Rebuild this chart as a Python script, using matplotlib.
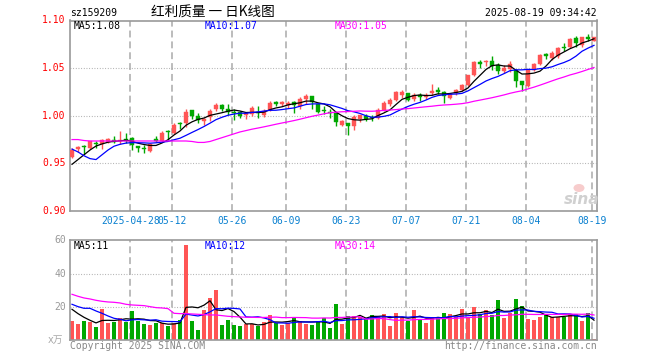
import matplotlib
matplotlib.use("Agg")
import matplotlib.pyplot as plt
import numpy as np
import pandas as pd
from matplotlib.patches import Rectangle, Ellipse

# ---------------- data ----------------
dates = (["2025-04-%02d" % d for d in [14, 15, 16, 17, 18, 21, 22, 23, 24, 25, 28, 29, 30]]
         + ["2025-05-%02d" % d for d in [6, 7, 8, 9, 12, 13, 14, 15, 16, 19, 20, 21, 22, 23, 26, 27, 28, 29, 30]]
         + ["2025-06-%02d" % d for d in [3, 4, 5, 6, 9, 10, 11, 12, 13, 16, 17, 18, 19, 20, 23, 24, 25, 26, 27, 30]]
         + ["2025-07-%02d" % d for d in [1, 2, 3, 4, 7, 8, 9, 10, 11, 14, 15, 16, 17, 18, 21, 22, 23, 24, 25, 28, 29, 30, 31]]
         + ["2025-08-%02d" % d for d in [1, 4, 5, 6, 7, 8, 11, 12, 13, 14, 15, 18, 19]])

opens = [0.957, 0.965, 0.968, 0.966, 0.971, 0.970, 0.972, 0.975, 0.973, 0.975,
         0.977, 0.968, 0.966, 0.963, 0.975, 0.974, 0.984, 0.982, 0.992, 0.992,
         1.006, 1.000, 0.995, 0.999, 1.007, 1.011, 1.007, 1.004, 1.004, 1.001,
         1.002, 1.004, 1.001, 1.006, 1.014, 1.012, 1.011, 1.014, 1.010, 1.018,
         1.021, 1.012, 1.006, 1.004, 1.003, 0.990, 0.992, 0.989, 0.997, 1.000,
         0.999, 0.998, 1.006, 1.012, 1.017, 1.022, 1.024, 1.018, 1.022, 1.020,
         1.024, 1.027, 1.025, 1.019, 1.024, 1.027, 1.032, 1.043, 1.056, 1.056,
         1.057, 1.053, 1.047, 1.049, 1.048, 1.036, 1.031, 1.048, 1.054, 1.065,
         1.061, 1.063, 1.072, 1.072, 1.082, 1.074, 1.083, 1.079]
highs = [0.966, 0.968, 0.969, 0.974, 0.973, 0.976, 0.977, 0.979, 0.984, 0.982,
         0.978, 0.968, 0.969, 0.971, 0.979, 0.984, 0.985, 0.992, 0.993, 1.007,
         1.006, 1.003, 0.998, 1.007, 1.013, 1.012, 1.012, 1.007, 1.005, 1.004,
         1.010, 1.010, 1.007, 1.015, 1.016, 1.016, 1.016, 1.016, 1.020, 1.023,
         1.021, 1.013, 1.010, 1.007, 1.004, 0.996, 0.992, 1.001, 1.001, 1.002,
         1.001, 1.008, 1.016, 1.019, 1.026, 1.027, 1.024, 1.024, 1.024, 1.024,
         1.033, 1.030, 1.026, 1.024, 1.028, 1.033, 1.043, 1.057, 1.059, 1.059,
         1.063, 1.055, 1.053, 1.057, 1.049, 1.037, 1.049, 1.055, 1.065, 1.066,
         1.068, 1.072, 1.076, 1.082, 1.084, 1.083, 1.086, 1.083]
lows = [0.956, 0.962, 0.960, 0.965, 0.966, 0.965, 0.971, 0.971, 0.970, 0.971,
        0.964, 0.962, 0.961, 0.962, 0.972, 0.972, 0.975, 0.981, 0.986, 0.988,
        0.997, 0.992, 0.990, 0.995, 1.005, 1.005, 1.001, 0.996, 0.998, 0.997,
        1.000, 0.998, 0.999, 1.005, 1.010, 1.010, 1.008, 1.003, 1.007, 1.012,
        1.007, 1.003, 1.002, 0.998, 0.989, 0.989, 0.980, 0.985, 0.993, 0.994,
        0.995, 0.997, 1.005, 1.010, 1.016, 1.019, 1.016, 1.016, 1.016, 1.018,
        1.022, 1.023, 1.013, 1.018, 1.022, 1.026, 1.031, 1.042, 1.050, 1.052,
        1.048, 1.044, 1.045, 1.046, 1.030, 1.026, 1.030, 1.047, 1.053, 1.060,
        1.059, 1.061, 1.068, 1.071, 1.072, 1.072, 1.078, 1.078]
closes = [0.964, 0.967, 0.967, 0.973, 0.970, 0.975, 0.976, 0.972, 0.975, 0.974,
          0.969, 0.966, 0.965, 0.970, 0.974, 0.982, 0.983, 0.990, 0.991, 1.004,
          1.000, 0.996, 0.997, 1.005, 1.011, 1.007, 1.004, 1.003, 1.000, 1.003,
          1.008, 1.003, 1.005, 1.013, 1.012, 1.014, 1.013, 1.011, 1.018, 1.021,
          1.014, 1.004, 1.005, 1.003, 0.993, 0.995, 0.989, 0.999, 1.001, 0.997,
          0.998, 1.006, 1.013, 1.017, 1.025, 1.025, 1.017, 1.022, 1.020, 1.022,
          1.026, 1.025, 1.021, 1.023, 1.027, 1.032, 1.043, 1.056, 1.054, 1.058,
          1.052, 1.047, 1.050, 1.054, 1.036, 1.032, 1.048, 1.054, 1.064, 1.063,
          1.066, 1.071, 1.071, 1.081, 1.076, 1.083, 1.081, 1.083]
volumes = [11.6, 9.8, 11.6, 11.2, 8.0, 18.8, 10.4, 11.0, 13.4, 11.0,
           17.6, 11.6, 9.8, 9.2, 10.4, 10.4, 8.6, 10.4, 12.2, 57.2,
           11.6, 6.2, 18.2, 25.4, 30.2, 9.2, 12.2, 9.2, 8.6, 9.8,
           9.8, 8.6, 11.0, 15.2, 10.4, 9.2, 10.4, 14.0, 11.6, 9.8,
           9.2, 11.0, 13.4, 7.4, 21.8, 9.8, 14.6, 14.6, 14.0, 13.4,
           15.2, 14.6, 15.8, 8.6, 16.4, 14.0, 11.6, 18.2, 12.2, 10.4,
           14.0, 14.0, 16.4, 15.8, 14.0, 18.8, 14.0, 20.0, 15.8, 18.2,
           15.2, 24.2, 13.4, 16.4, 24.8, 20.6, 12.8, 12.2, 14.0, 15.8,
           14.0, 14.0, 14.0, 15.8, 15.8, 11.6, 16.4, 0.8]

price_ma5_head = [0.949, 0.954, 0.959, 0.964]
price_ma10_head = [0.965, 0.962, 0.958, 0.955, 0.954, 0.959, 0.964, 0.968, 0.970]
price_ma30_head = [0.975, 0.975, 0.974, 0.9735, 0.9735, 0.9735, 0.9735, 0.9735, 0.9735, 0.9735,
                   0.9735, 0.9735, 0.9735, 0.9735, 0.9735, 0.9735, 0.9735, 0.9735, 0.9735, 0.9735,
                   0.9730, 0.972, 0.972, 0.973, 0.975, 0.977, 0.979, 0.981, 0.983]
vol_ma5_head = [18.6, 16.0, 13.8, 12.0]
vol_ma10_head = [21.6, 20.2, 19.2, 19.2, 17.6, 16.2, 14.6, 13.2, 12.6]
vol_ma30_head = [27.6, 26.4, 25.4, 24.8, 24.0, 23.4, 23.0, 22.8, 22.4, 21.6,
                 21.2, 21.0, 20.8, 20.2, 19.6, 19.4, 19.0, 16.2, 16.0, 16.0,
                 15.8, 15.6, 15.4, 15.2, 15.2, 14.8, 14.4, 14.2, 14.0]

tick_dates = ["2025-04-28", "2025-05-12", "2025-05-26", "2025-06-09", "2025-06-23",
              "2025-07-07", "2025-07-21", "2025-08-04", "2025-08-19"]
tick_labels = ["2025-04-28", "05-12", "05-26", "06-09", "06-23", "07-07", "07-21", "08-04", "08-19"]
price_ticks = [0.90, 0.95, 1.00, 1.05, 1.10]
vol_ticks = [20, 40, 60]

code = "sz159209"
title = "红利质量 一 日K线图"
timestamp = "2025-08-19 09:34:42"
price_ma_labels = ["MA5:1.08", "MA10:1.07", "MA30:1.05"]
vol_ma_labels = ["MA5:11", "MA10:12", "MA30:14"]


def moving(values, n, head):
    s = pd.Series(values).rolling(n).mean().to_numpy()
    s[:len(head)] = head
    return s


# ---------------- styling ----------------
RED = "#ff5555"
GREEN = "#00a800"
GRID = "#aaaaaa"
FRAME = "#9a9a9a"
MONO = "DejaVu Sans Mono"
MA_COLORS = ["#000000", "#0000ff", "#ff00ff"]

W, H = 660, 360
fig = plt.figure(figsize=(W / 100, H / 100), dpi=100)


def fx(px):
    return px / W


def fy(py):
    return 1 - py / H


L_PX, R_PX = 70, 597
ax = fig.add_axes([fx(L_PX), fy(211), fx(R_PX - L_PX), (211 - 20.5) / H])
axv = fig.add_axes([fx(L_PX), fy(340.3), fx(R_PX - L_PX), 100 / H])

n = len(closes)
x = np.arange(n)
xmin = (L_PX - 72) / 6.0
xmax = (R_PX - 72) / 6.0
tick_pos = [dates.index(d) - 0.3 for d in tick_dates]

for a in (ax, axv):
    a.set_xlim(xmin, xmax)
    for s in a.spines.values():
        s.set_color(FRAME)
        s.set_linewidth(1.2)
    a.tick_params(length=0)
    a.set_xticks([])
    a.set_yticks([])
    for tp in tick_pos:
        a.axvline(tp, color=GRID, lw=1.1, dashes=(4.5, 2.6), zorder=0.5)

ax.set_ylim(0.90, 1.10)
axv.set_ylim(0, 60)

for v in price_ticks[1:-1]:
    ax.axhline(v, color=GRID, lw=0.8, dashes=(0.8, 1.6), zorder=0.5)
for v in vol_ticks[:-1]:
    axv.axhline(v, color=GRID, lw=0.8, dashes=(0.8, 1.6), zorder=0.5)

# candles
bw = 0.8
min_h = 0.0011
for i in range(n):
    o, h, l, c = opens[i], highs[i], lows[i], closes[i]
    col = RED if c >= o else GREEN
    ax.vlines(i, l, h, color=col, lw=1.0, zorder=2)
    bottom = min(o, c)
    height = max(abs(c - o), min_h)
    ax.add_patch(Rectangle((i - bw / 2, bottom), bw, height, facecolor=col,
                           edgecolor=col, lw=0.3, zorder=3))
    axv.bar(i, volumes[i], width=bw, color=col, zorder=2, linewidth=0)

# moving averages
pma = [moving(closes, 5, price_ma5_head), moving(closes, 10, price_ma10_head),
       moving(closes, 30, price_ma30_head)]
vma = [moving(volumes, 5, vol_ma5_head), moving(volumes, 10, vol_ma10_head),
       moving(volumes, 30, vol_ma30_head)]
for line, col in zip(pma, MA_COLORS):
    ax.plot(x, line, color=col, lw=0.9, zorder=4)
for line, col in zip(vma, MA_COLORS):
    axv.plot(x, line, color=col, lw=0.9, zorder=4)

# y labels
for v in price_ticks:
    ax.text(-0.008, v, "%.2f" % v, transform=ax.get_yaxis_transform(), ha="right",
            va="center", color="#ff0000", fontsize=7, family=MONO)
for v in vol_ticks:
    axv.text(-0.008, v, "%d" % v, transform=axv.get_yaxis_transform(), ha="right",
             va="center", color="#999999", fontsize=7, family=MONO)
axv.text(-0.012, 0, "x万", transform=axv.get_yaxis_transform(), ha="right", va="center",
         color="#aaaaaa", fontsize=7, family=["DejaVu Sans", "Noto Sans CJK SC"])

# x labels
for tp, lab in zip(tick_pos, tick_labels):
    ax.text(tp, -0.055, lab, transform=ax.get_xaxis_transform(), ha="center", va="center",
            color="#0a80d0", fontsize=7, family=MONO)

# MA legend texts
legend_x = [74, 205, 335]
for tx, lab, col in zip(legend_x, price_ma_labels, MA_COLORS):
    fig.text(fx(tx), fy(26), lab, ha="left", va="center", color=col, fontsize=7, family=MONO)
for tx, lab, col in zip(legend_x, vol_ma_labels, MA_COLORS):
    fig.text(fx(tx), fy(246), lab, ha="left", va="center", color=col, fontsize=7, family=MONO)

# header
fig.text(fx(70), fy(12.5), code, ha="left", va="center", fontsize=7, family=MONO, color="black")
fig.text(fx(213), fy(12.5), title, ha="center", va="center", fontsize=9.8,
         family=["Noto Sans CJK SC", "DejaVu Sans"], color="black")
fig.text(fx(597), fy(12.5), timestamp, ha="right", va="center", fontsize=7, family=MONO,
         color="black")

# footer
fig.text(fx(70), fy(345.7), "Copyright 2025 SINA.COM", ha="left", va="center", fontsize=7,
         family=MONO, color="#888888")
fig.text(fx(597), fy(345.7), "http://finance.sina.com.cn", ha="right", va="center",
         fontsize=7, family=MONO, color="#888888")

# watermark (logo drawn as a shape, word as text)
fig.add_artist(Ellipse((fx(579), fy(188)), fx(11), 8 / H, facecolor="#f7cccc",
                       edgecolor="none", transform=fig.transFigure, zorder=1))
fig.text(fx(582), fy(200), "sina", ha="center", va="center", fontsize=11, style="italic",
         weight="bold", color="#d0d0d0", family="DejaVu Sans")

fig.savefig("out.png", dpi=100)
